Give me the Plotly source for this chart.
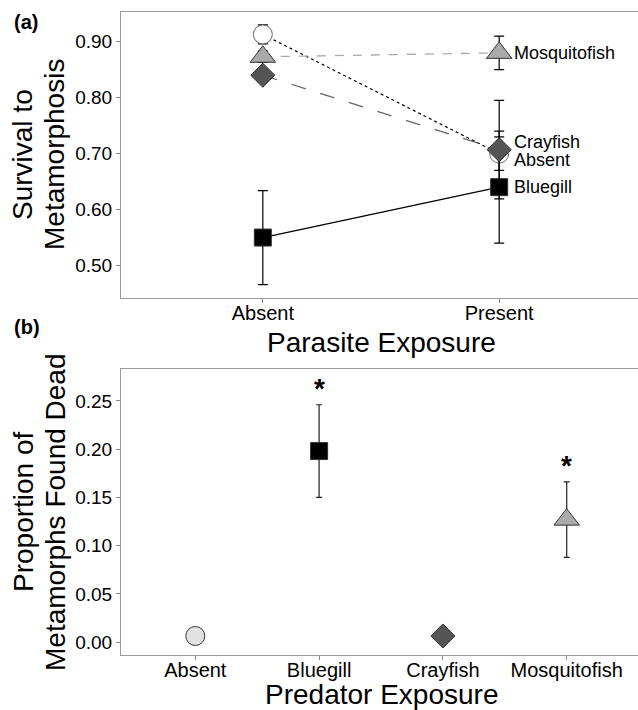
import plotly.graph_objects as go

W, H = 646, 710
FONT = "Liberation Sans, Arial, sans-serif"

# ---------- Panel (a) data ----------
parasite = ["Absent", "Present"]
groups_a = ["Absent", "Bluegill", "Crayfish", "Mosquitofish"]
surv_mean = {
    "Absent": [0.913, 0.700],
    "Bluegill": [0.550, 0.640],
    "Crayfish": [0.840, 0.707],
    "Mosquitofish": [0.873, 0.880],
}
surv_se = {
    "Absent": [0.017, 0.030],
    "Bluegill": [0.084, 0.100],
    "Crayfish": [0.010, 0.088],
    "Mosquitofish": [0.010, 0.030],
}
label_y = {"Absent": 0.688, "Bluegill": 0.640, "Crayfish": 0.721, "Mosquitofish": 0.880}

# ---------- Panel (b) data ----------
predators = ["Absent", "Bluegill", "Crayfish", "Mosquitofish"]
dead_mean = [0.0065, 0.198, 0.0065, 0.127]
dead_se = [0.0, 0.048, 0.0, 0.039]
signif = ["", "*", "", "*"]
star_y = [None, 0.263, None, 0.183]

y_ticks_a = [0.50, 0.60, 0.70, 0.80, 0.90]
y_ticks_b = [0.00, 0.05, 0.10, 0.15, 0.20, 0.25]

# ---------- styles ----------
sym = {"Absent": "circle", "Bluegill": "square", "Crayfish": "diamond", "Mosquitofish": "triangle-up"}
fill_a = {"Absent": "white", "Bluegill": "black", "Crayfish": "#555555", "Mosquitofish": "#aaaaaa"}
fill_b = {"Absent": "#e2e2e2", "Bluegill": "black", "Crayfish": "#555555", "Mosquitofish": "#aaaaaa"}
msize = {"Absent": 19, "Bluegill": 17, "Crayfish": 18.5, "Mosquitofish": 22}
line_style = {
    "Absent": dict(color="black", width=1.2, dash="dot"),
    "Bluegill": dict(color="black", width=1.3, dash="solid"),
    "Crayfish": dict(color="#666666", width=1.3, dash="longdash"),
    "Mosquitofish": dict(color="#aaaaaa", width=1.3, dash="dash"),
}

fig = go.Figure()

# lines first
for g in groups_a:
    fig.add_trace(go.Scatter(x=parasite, y=surv_mean[g], mode="lines",
                             line=line_style[g], xaxis="x", yaxis="y",
                             showlegend=False, hoverinfo="skip"))
# markers with error bars
for g in groups_a:
    fig.add_trace(go.Scatter(
        x=parasite, y=surv_mean[g], mode="markers",
        marker=dict(symbol=sym[g], size=msize[g], color=fill_a[g],
                    line=dict(color="#333333" if g != "Absent" else "#666666", width=1)),
        error_y=dict(type="data", array=surv_se[g], color="black", thickness=1.2, width=5),
        xaxis="x", yaxis="y", showlegend=False, name=g))

# panel b
for i, p in enumerate(predators):
    fig.add_trace(go.Scatter(
        x=[p], y=[dead_mean[i]], mode="markers",
        marker=dict(symbol=sym[p], size=msize[p], color=fill_b[p],
                    line=dict(color="#333333", width=1)),
        error_y=dict(type="data", array=[dead_se[i]], color="#222222", thickness=1.2, width=3),
        xaxis="x2", yaxis="y2", showlegend=False, name=p))

def px_x(v):
    return v / W

def px_y(v):
    return 1 - v / H

ann = []
# series labels panel a
for g in groups_a:
    ann.append(dict(x="Present", y=label_y[g], xref="x", yref="y", text=g,
                    showarrow=False, xanchor="left", yanchor="middle", xshift=13,
                    font=dict(size=18, color="black", family=FONT)))
# asterisks panel b
for i, p in enumerate(predators):
    if signif[i]:
        ann.append(dict(x=p, y=star_y[i], xref="x2", yref="y2", text="<b>" + signif[i] + "</b>",
                        showarrow=False, xanchor="center", yanchor="middle",
                        font=dict(size=28, color="black", family=FONT)))
# panel letters
ann.append(dict(x=px_x(12), y=px_y(22), xref="paper", yref="paper", text="<b>(a)</b>",
                showarrow=False, xanchor="left", yanchor="middle",
                font=dict(size=20, color="black", family=FONT)))
ann.append(dict(x=px_x(12), y=px_y(327), xref="paper", yref="paper", text="<b>(b)</b>",
                showarrow=False, xanchor="left", yanchor="middle",
                font=dict(size=20, color="black", family=FONT)))
# axis titles
title_font = dict(size=28, color="black", family=FONT)
ann += [
    dict(x=px_x(23), y=px_y(155), xref="paper", yref="paper", text="Survival to",
         textangle=-90, showarrow=False, xanchor="center", yanchor="middle", font=title_font),
    dict(x=px_x(55), y=px_y(155), xref="paper", yref="paper", text="Metamorphosis",
         textangle=-90, showarrow=False, xanchor="center", yanchor="middle", font=title_font),
    dict(x=px_x(23), y=px_y(512), xref="paper", yref="paper", text="Proportion of",
         textangle=-90, showarrow=False, xanchor="center", yanchor="middle", font=title_font),
    dict(x=px_x(55), y=px_y(512), xref="paper", yref="paper", text="Metamorphs Found Dead",
         textangle=-90, showarrow=False, xanchor="center", yanchor="middle", font=title_font),
    dict(x=px_x(381), y=px_y(342), xref="paper", yref="paper", text="Parasite Exposure",
         showarrow=False, xanchor="center", yanchor="middle", font=title_font),
    dict(x=px_x(381), y=px_y(694), xref="paper", yref="paper", text="Predator Exposure",
         showarrow=False, xanchor="center", yanchor="middle", font=title_font),
]

axis_common = dict(showgrid=False, zeroline=False, showline=True, linecolor="#9a9a9a", linewidth=1,
                   ticks="outside", ticklen=4, tickcolor="#888888", tickwidth=1, automargin=False,
                   tickfont=dict(size=20, color="black", family=FONT))

fig.update_layout(
    template="none",
    width=W, height=H, margin=dict(l=0, r=0, t=0, b=0, pad=0, autoexpand=False),
    paper_bgcolor="white", plot_bgcolor="white",
    font=dict(family=FONT, color="black"),
    xaxis=dict(axis_common, domain=[px_x(121), px_x(641)], anchor="y", type="category",
               categoryorder="array", categoryarray=parasite,
               range=[-0.6, 1.6], mirror=True, ticklabelstandoff=-7),
    yaxis=dict(axis_common, domain=[px_y(298), px_y(12)], anchor="x", mirror=False,
               range=[0.442, 0.953], tickvals=y_ticks_a, tickformat=".2f",
               tickfont=dict(size=19, color="black", family=FONT)),
    xaxis2=dict(axis_common, domain=[px_x(121), px_x(641)], anchor="y2", type="category",
                categoryorder="array", categoryarray=predators,
                range=[-0.6, 3.6], mirror=True, ticklabelstandoff=-7),
    yaxis2=dict(axis_common, domain=[px_y(655), px_y(369)], anchor="x2", mirror=False,
                range=[-0.0132, 0.283], tickvals=y_ticks_b, tickformat=".2f",
                tickfont=dict(size=19, color="black", family=FONT)),
    annotations=ann,
)

fig.write_html("out.html", config={"displayModeBar": False},
               post_script="document.body.style.margin='0';document.body.style.padding='0';"
                           "document.body.style.overflow='hidden';"
                           "document.documentElement.style.overflow='hidden';")
